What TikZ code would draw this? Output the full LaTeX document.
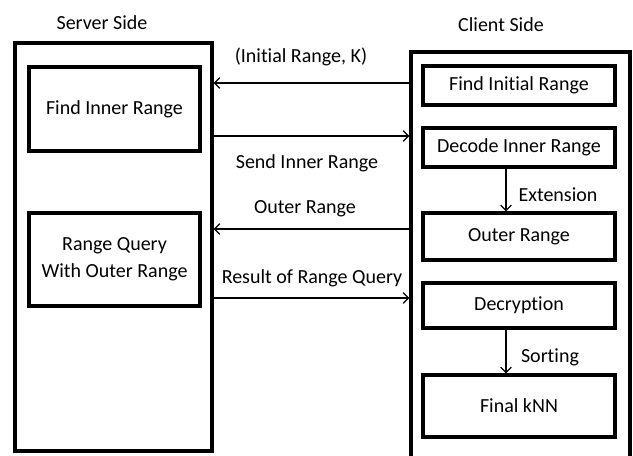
\documentclass[tikz,border=0pt]{standalone}
\usepackage{fontspec}
\setmainfont{Carlito}[Ligatures=NoCommon]
\usetikzlibrary{arrows.meta}

\begin{document}
\begin{tikzpicture}[x=0.75pt,y=-0.75pt,
  box/.style={draw, line width=2.3pt, align=center, inner sep=0pt},
  link/.style={line width=1pt, -{Straight Barb[length=4pt,width=8pt]}},
  txt/.style={font=\fontsize{15}{20}\selectfont, inner sep=0pt}]
  \useasboundingbox (0,0) rectangle (633,455);
  \clip (0,0) rectangle (633,455);
  % the two sides
  \node[box, minimum width=197*0.75pt, minimum height=408*0.75pt] (srv) at (113.5,247) {};
  \node[box, minimum width=219*0.75pt, minimum height=448*0.75pt] (cli) at (520.5,276) {};
  \node[txt] (srvname) at (102,23) {Server Side};
  \node[txt] (cliname) at (501,25) {Client Side};
  % server steps
  \node[box, txt, minimum width=171*0.75pt, minimum height=84*0.75pt] (inner) at (114.5,109) {Find Inner Range};
  \node[box, txt, minimum width=171*0.75pt, minimum height=93*0.75pt] (query) at (114.5,259.5) {Range Query\\With Outer Range};
  % client steps
  \node[box, txt, minimum width=192*0.75pt, minimum height=39*0.75pt] (init) at (519,85.5) {Find Initial Range};
  \node[box, txt, minimum width=192*0.75pt, minimum height=39*0.75pt] (decode) at (519,147.5) {Decode Inner Range};
  \node[box, txt, minimum width=192*0.75pt, minimum height=47*0.75pt] (outer) at (519,236.5) {Outer Range};
  \node[box, txt, minimum width=192*0.75pt, minimum height=45*0.75pt] (decrypt) at (519,305.5) {Decryption};
  \node[box, txt, minimum width=192*0.75pt, minimum height=62*0.75pt] (knn) at (519,406) {Final kNN};
  % messages between the sides
  \draw[link] (cli.west |- 0,83) -- (srv.east |- 0,83);
  \draw[link] (srv.east |- 0,136) -- (cli.west |- 0,136);
  \draw[link] (cli.west |- 0,229) -- (srv.east |- 0,229);
  \draw[link] (srv.east |- 0,298) -- (cli.west |- 0,298);
  \node[txt] (msgk) at (301,57) {(Initial Range, K)};
  \node[txt] (msgsend) at (307,163) {Send Inner Range};
  \node[txt] (msgouter) at (305,209) {Outer Range};
  \node[txt] (msgresult) at (312,278) {Result of Range Query};
  % client internal
  \draw[link] (decode.south -| 506,0) -- (outer.north -| 506,0);
  \draw[link] (decrypt.south -| 506,0) -- (knn.north -| 506,0);
  \node[txt] (ext) at (558,195) {Extension};
  \node[txt] (sort) at (550,357) {Sorting};
\end{tikzpicture}
\end{document}
